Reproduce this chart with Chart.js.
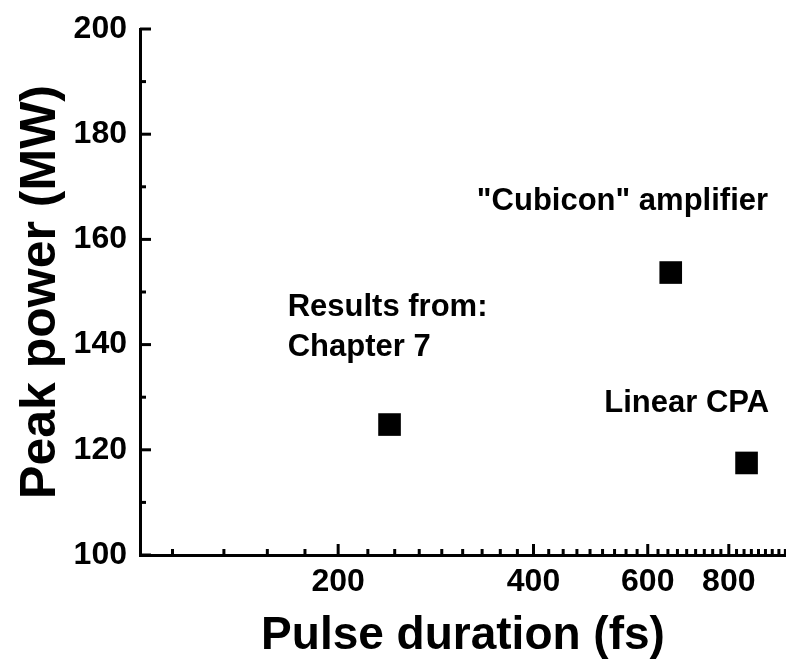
<!DOCTYPE html>
<html>
<head>
<meta charset="utf-8">
<script src="https://cdn.jsdelivr.net/npm/chart.js@4.4.0/dist/chart.umd.min.js"></script>
<style>
html, body { margin: 0; padding: 0; background: #fff; }
</style>
</head>
<body>
<canvas id="peakChart" width="786" height="659"></canvas>
<script>
// measured points: pulse duration (fs) vs peak power (MW)
const pulseDuration = [240, 651, 852];
const peakPower = [124.8, 153.7, 117.5];

const xTickValues = [200, 400, 600, 800];
const yTickValues = [100, 120, 140, 160, 180, 200];

// text notes, anchored in data units
const noteText = [['Results from:', 'Chapter 7'], ['"Cubicon" amplifier'], ['Linear CPA']];
const noteDuration = [167.2, 327.2, 514.3];
const notePower = [147.1, 167.3, 128.8];

const FONT = '"Liberation Sans", Arial, Helvetica, sans-serif';

// Origin-style ticks pointing into the plot
const inwardTicks = {
    id: 'inwardTicks',
    afterDraw(chart) {
        const {ctx, chartArea, scales} = chart;
        const x = scales.x, y = scales.y;
        ctx.save();
        ctx.strokeStyle = '#000';
        ctx.lineWidth = 3;
        for (let m = 0; m <= 1000; m += 200) {
            for (let k = 0; k < 9; k++) {
                const v = m + k * 200 / 9;
                if (v < x.min || v > x.max) continue;
                const px = x.getPixelForValue(v);
                const len = k === 0 ? 11 : 6;
                ctx.beginPath();
                ctx.moveTo(px, chartArea.bottom);
                ctx.lineTo(px, chartArea.bottom - len);
                ctx.stroke();
            }
        }
        for (let v = 100; v <= 200; v += 10) {
            const py = y.getPixelForValue(v);
            const len = v % 20 === 0 ? 11 : 6;
            ctx.beginPath();
            ctx.moveTo(chartArea.left, py);
            ctx.lineTo(chartArea.left + len, py);
            ctx.stroke();
        }
        ctx.restore();
    }
};

const notes = {
    id: 'notes',
    afterDraw(chart) {
        const {ctx, scales} = chart;
        ctx.save();
        ctx.fillStyle = '#000';
        ctx.font = 'bold 31px ' + FONT;
        ctx.textAlign = 'left';
        ctx.textBaseline = 'middle';
        noteText.forEach((lines, i) => {
            const px = scales.x.getPixelForValue(noteDuration[i]);
            const py = scales.y.getPixelForValue(notePower[i]);
            lines.forEach((line, j) => ctx.fillText(line, px, py + j * 40));
        });
        ctx.restore();
    }
};

new Chart(document.getElementById('peakChart'), {
    type: 'scatter',
    data: {
        datasets: [{
            data: pulseDuration.map((d, i) => ({x: d, y: peakPower[i]})),
            backgroundColor: '#000',
            borderWidth: 0,
            pointStyle: 'rect',
            pointRadius: 16,
            pointHoverRadius: 16
        }]
    },
    options: {
        responsive: false,
        animation: false,
        layout: {autoPadding: false, padding: {top: 29, right: 0, bottom: 0, left: 0}},
        plugins: {legend: {display: false}, tooltip: {enabled: false}},
        scales: {
            x: {
                type: 'logarithmic',
                min: 99,
                max: 980,
                afterBuildTicks: (scale) => { scale.ticks = xTickValues.map(v => ({value: v})); },
                afterFit: (scale) => {
                    scale.height = 104;
                    scale.paddingLeft = 0;
                    scale.paddingRight = 0;
                },
                grid: {display: false, drawTicks: false},
                border: {display: true, color: '#000', width: 3},
                ticks: {
                    color: '#000',
                    padding: 8,
                    maxRotation: 0,
                    autoSkip: false,
                    font: {family: FONT, size: 32, weight: 'bold'},
                    callback: (v) => String(v)
                },
                title: {
                    display: true,
                    text: 'Pulse duration (fs)',
                    color: '#000',
                    font: {family: FONT, size: 46, weight: 'bold', lineHeight: 1},
                    padding: {top: 0, bottom: 0}
                }
            },
            y: {
                min: 100,
                max: 200,
                afterBuildTicks: (scale) => { scale.ticks = yTickValues.map(v => ({value: v})); },
                afterFit: (scale) => {
                    scale.width = 140;
                    scale.paddingTop = 0;
                    scale.paddingBottom = 0;
                },
                grid: {display: false, drawTicks: false},
                border: {display: true, color: '#000', width: 3},
                ticks: {
                    color: '#000',
                    padding: 13,
                    font: {family: FONT, size: 32, weight: 'bold'}
                },
                title: {
                    display: true,
                    text: 'Peak power (MW)',
                    color: '#000',
                    font: {family: FONT, size: 50, weight: 'bold', lineHeight: 1},
                    padding: {top: 16, bottom: 0}
                }
            }
        }
    },
    plugins: [inwardTicks, notes]
});
</script>
</body>
</html>
